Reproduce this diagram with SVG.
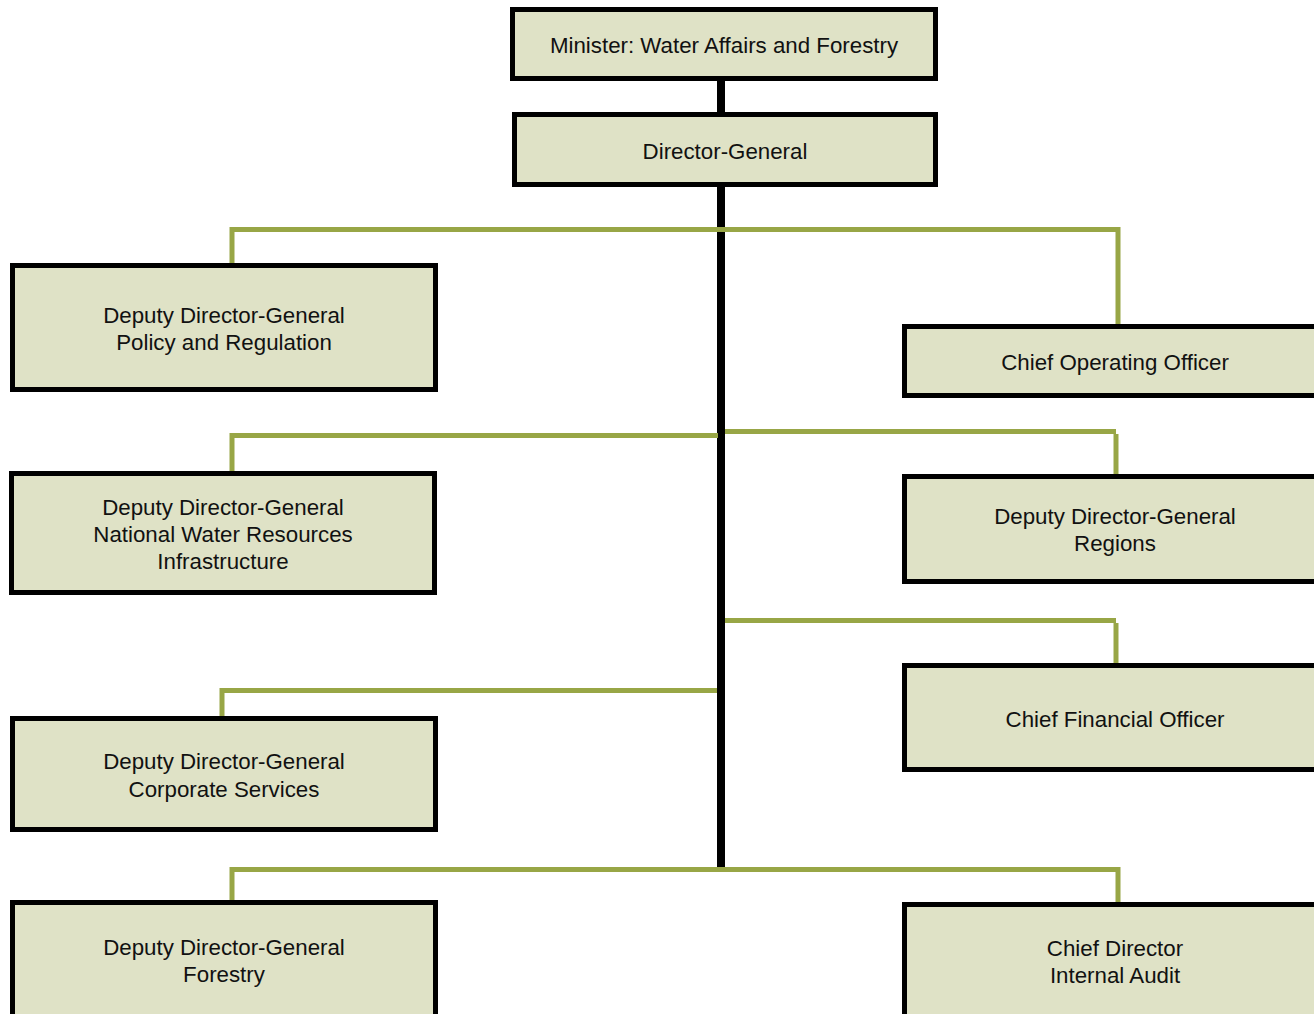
<svg xmlns="http://www.w3.org/2000/svg" width="1314" height="1014" viewBox="0 0 1314 1014">
<style>
.box{fill:#dfe2c6;stroke:#000;stroke-width:5}
.t{font-family:"Liberation Sans",Arial,sans-serif;font-size:22.3px;fill:#111;text-anchor:middle}
.g{fill:none;stroke:#98a646;stroke-width:5}
.trunk{stroke:#000;stroke-width:8}
</style>
<rect width="1314" height="1014" fill="#fff"/>
<g id="connectors">
<line class="trunk" x1="721" y1="79" x2="721" y2="870"/>
<polyline class="g" points="232,265 232,229.5 1118,229.5 1118,326"/>
<polyline class="g" points="232,473 232,435.5 718,435.5"/>
<polyline class="g" points="725,431.5 1116,431.5"/>
<line class="g" x1="1116" y1="434" x2="1116" y2="476"/>
<polyline class="g" points="725,620.5 1116,620.5"/>
<line class="g" x1="1116" y1="623" x2="1116" y2="665"/>
<polyline class="g" points="222,718 222,690.5 717,690.5"/>
<polyline class="g" points="232,902 232,869.5 1118,869.5 1118,904"/>
</g>
<g id="minister">
<rect class="box" x="512.5" y="9.5" width="423" height="69"/>
<text class="t" x="724" y="53">Minister: Water Affairs and Forestry</text>
</g>
<g id="dg">
<rect class="box" x="514.5" y="114.5" width="421" height="70"/>
<text class="t" x="725" y="159">Director-General</text>
</g>
<g id="ddg-policy">
<rect class="box" x="12.5" y="265.5" width="423" height="124"/>
<text class="t" x="224" y="323">Deputy Director-General</text>
<text class="t" x="224" y="350">Policy and Regulation</text>
</g>
<g id="coo">
<rect class="box" x="904.5" y="326.5" width="430" height="69"/>
<text class="t" x="1115" y="370">Chief Operating Officer</text>
</g>
<g id="ddg-nwri">
<rect class="box" x="11.5" y="473.5" width="423" height="119"/>
<text class="t" x="223" y="515">Deputy Director-General</text>
<text class="t" x="223" y="542">National Water Resources</text>
<text class="t" x="223" y="569">Infrastructure</text>
</g>
<g id="ddg-regions">
<rect class="box" x="904.5" y="476.5" width="430" height="105"/>
<text class="t" x="1115" y="524">Deputy Director-General</text>
<text class="t" x="1115" y="551">Regions</text>
</g>
<g id="cfo">
<rect class="box" x="904.5" y="665.5" width="430" height="104"/>
<text class="t" x="1115" y="727">Chief Financial Officer</text>
</g>
<g id="ddg-corporate">
<rect class="box" x="12.5" y="718.5" width="423" height="111"/>
<text class="t" x="224" y="769">Deputy Director-General</text>
<text class="t" x="224" y="797">Corporate Services</text>
</g>
<g id="ddg-forestry">
<rect class="box" x="12.5" y="902.5" width="423" height="130"/>
<text class="t" x="224" y="955">Deputy Director-General</text>
<text class="t" x="224" y="982">Forestry</text>
</g>
<g id="audit">
<rect class="box" x="904.5" y="904.5" width="430" height="130"/>
<text class="t" x="1115" y="956">Chief Director</text>
<text class="t" x="1115" y="983">Internal Audit</text>
</g>
</svg>
